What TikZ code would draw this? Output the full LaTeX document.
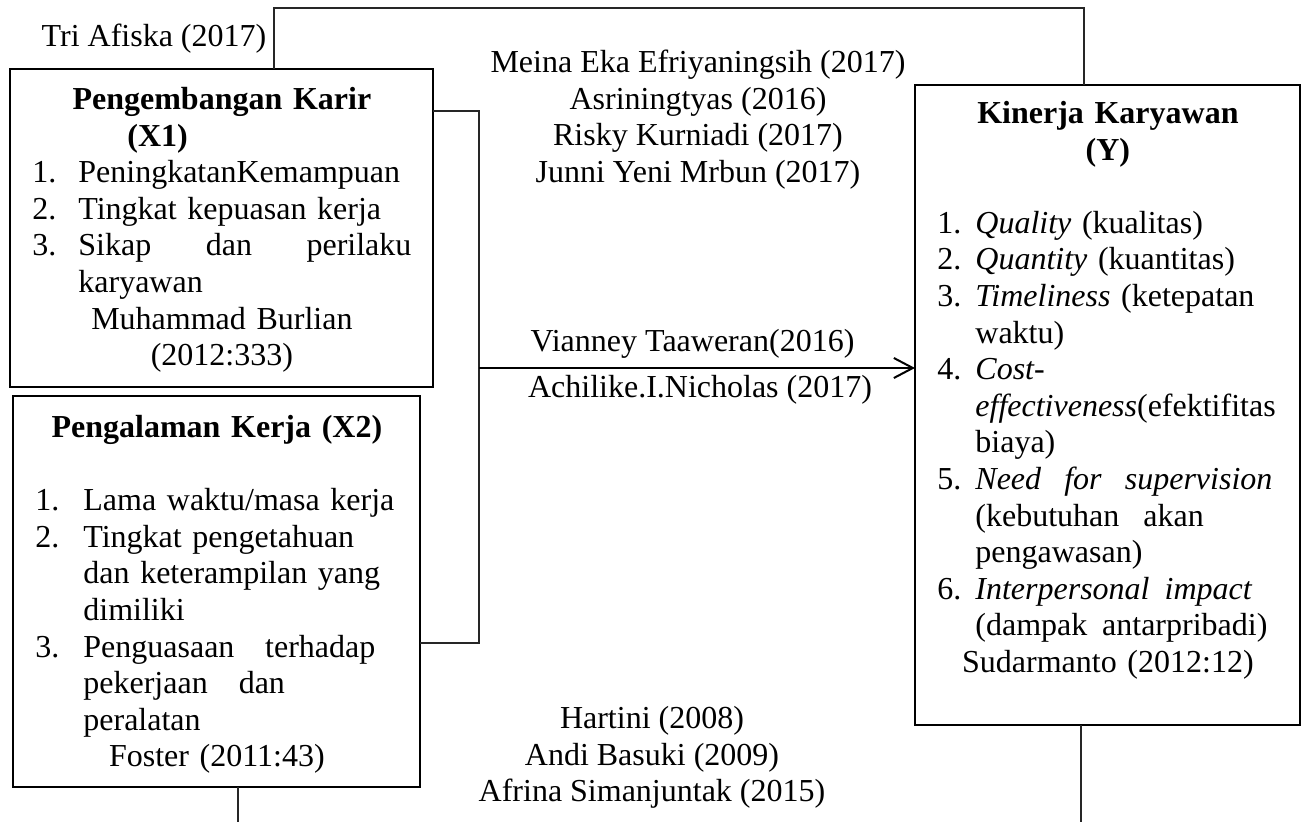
\documentclass[tikz,border=0pt]{standalone}
\usepackage{fontspec}
\setmainfont{Liberation Serif}
\usetikzlibrary{arrows.meta}
\setlength{\parindent}{0pt}
\setlength{\parskip}{0pt}

\begin{document}
\begin{tikzpicture}[
    % One unit is one pixel of the original figure
    x=0.5pt, y=-0.5pt,
    % Define styles for the elements
    box_style/.style={draw=black, line width=1.3pt, anchor=north west, inner sep=0pt, outer sep=0pt},
    inside_style/.style={anchor=north west, inner sep=0pt, align=left, font={\fontsize{16}{18.3}\selectfont}},
    ref_style/.style={inner sep=0pt, align=center, font={\fontsize{16}{18.3}\selectfont}},
    line_style/.style={draw=black!85, line width=0.6pt},
    arrow_style/.style={draw=black, line width=1pt, -{Straight Barb[length=9.5pt, width=10pt]}}
  ]

  \useasboundingbox (0,0) rectangle (1306,822);

  % --- Step 1: The three variable boxes ---
  \node[box_style, minimum width=211.5pt, minimum height=159pt] (karir) at (10,69) {};
  \node[box_style, minimum width=203.5pt, minimum height=195.5pt] (pengalaman) at (13,396) {};
  \node[box_style, minimum width=192.5pt, minimum height=320pt] (kinerja) at (915,85) {};

  % --- Step 2: The indicators inside each box ---
  \node[inside_style, text width=189.5pt] (karir text) at (32,83.4) {%
    \strut\hspace*{\fill}\textbf{Pengembangan Karir}\hspace*{\fill}\mbox{}\\
    \hspace*{47.5pt}\textbf{(X1)}\\
    \makebox[23pt][l]{1.}PeningkatanKemampuan\\
    \makebox[23pt][l]{2.}Tingkat kepuasan kerja\\
    \makebox[23pt][l]{3.}Sikap\hfill dan\hfill perilaku\\
    \hspace*{23pt}karyawan\\
    \hspace*{\fill}Muhammad Burlian\hspace*{\fill}\mbox{}\\
    \hspace*{\fill}(2012:333)\hspace*{\fill}\mbox{}};

  \node[inside_style, text width=181.5pt] (pengalaman text) at (35,411.4) {%
    \strut\hspace*{\fill}\textbf{Pengalaman Kerja (X2)}\hspace*{\fill}\mbox{}\\
    \mbox{}\\
    \makebox[24pt][l]{1.}Lama waktu/masa kerja\\
    \makebox[24pt][l]{2.}Tingkat pengetahuan\\
    \hspace*{24pt}dan keterampilan yang\\
    \hspace*{24pt}dimiliki\\
    \makebox[24pt][l]{3.}\makebox[146pt][l]{Penguasaan\hfill terhadap}\\
    \hspace*{24pt}pekerjaan\hspace{15.5pt}dan\\
    \hspace*{24pt}peralatan\\
    \hspace*{\fill}Foster (2011:43)\hspace*{\fill}\mbox{}};

  \node[inside_style, text width=170.5pt] (kinerja text) at (937,97.4) {%
    \strut\hspace*{\fill}\textbf{Kinerja Karyawan}\hspace*{\fill}\mbox{}\\
    \hspace*{\fill}\textbf{(Y)}\hspace*{\fill}\mbox{}\\
    \mbox{}\\
    \makebox[19pt][l]{1.}\textit{Quality} (kualitas)\\
    \makebox[19pt][l]{2.}\textit{Quantity} (kuantitas)\\
    \makebox[19pt][l]{3.}\textit{Timeliness} (ketepatan\\
    \hspace*{19pt}waktu)\\
    \makebox[19pt][l]{4.}\textit{Cost-}\\
    \hspace*{19pt}\textit{effectiveness}(efektifitas\\
    \hspace*{19pt}biaya)\\
    \makebox[19pt][l]{5.}\makebox[148.5pt][l]{\textit{Need\hfill for\hfill supervision}}\\
    \hspace*{19pt}(kebutuhan\hspace{12pt}akan\\
    \hspace*{19pt}pengawasan)\\
    \makebox[19pt][l]{6.}\makebox[138.5pt][l]{\textit{Interpersonal\hfill impact}}\\
    \hspace*{19pt}\makebox[146pt][l]{(dampak\hfill antarpribadi)}\\
    \hspace*{\fill}Sudarmanto (2012:12)\hspace*{\fill}\mbox{}};

  % --- Step 3: The references along the paths ---
  \node[ref_style, anchor=base] (afiska) at (154,47) {Tri Afiska (2017)};
  \node[ref_style, anchor=north] (simultan) at (698,46.4) {%
    \strut Meina Eka Efriyaningsih (2017)\\
    Asriningtyas (2016)\\
    Risky Kurniadi (2017)\\
    Junni Yeni Mrbun (2017)};
  \node[ref_style, anchor=base] (vianney) at (692.5,352) {Vianney Taaweran(2016)};
  \node[ref_style, anchor=base] (achilike) at (700,398) {Achilike.I.Nicholas (2017)};
  \node[ref_style, anchor=north] (hartini) at (652,702.4) {%
    \strut Hartini (2008)\\
    Andi Basuki (2009)\\
    Afrina Simanjuntak (2015)};

  % --- Step 4: The connecting lines ---
  \coordinate (top bend) at (1084,8);
  \coordinate (join top) at (479,111);
  \coordinate (join mid) at (479,368);
  \coordinate (join bottom) at (479,643);
  \coordinate (low left) at (238,822);
  \coordinate (low right) at (1081,822);

  % X1 to Y over the top
  \draw[line_style] ([xshift=26.25pt]karir.north) |- (top bend) -- ([xshift=-11.75pt]kinerja.north);

  % X1 and X2 joined, then the arrow to Y
  \draw[line_style] ([yshift=-21pt]karir.north east) -- (join top) -- (join bottom) -- ([yshift=-25.75pt]pengalaman.east);
  \draw[arrow_style] (join mid) -- (kinerja.west |- join mid);

  % X2 to Y under the bottom
  \draw[line_style] ([xshift=10.75pt]pengalaman.south) -- (low left);
  \draw[line_style] ([xshift=-13.25pt]kinerja.south) -- (low right);

\end{tikzpicture}
\end{document}
